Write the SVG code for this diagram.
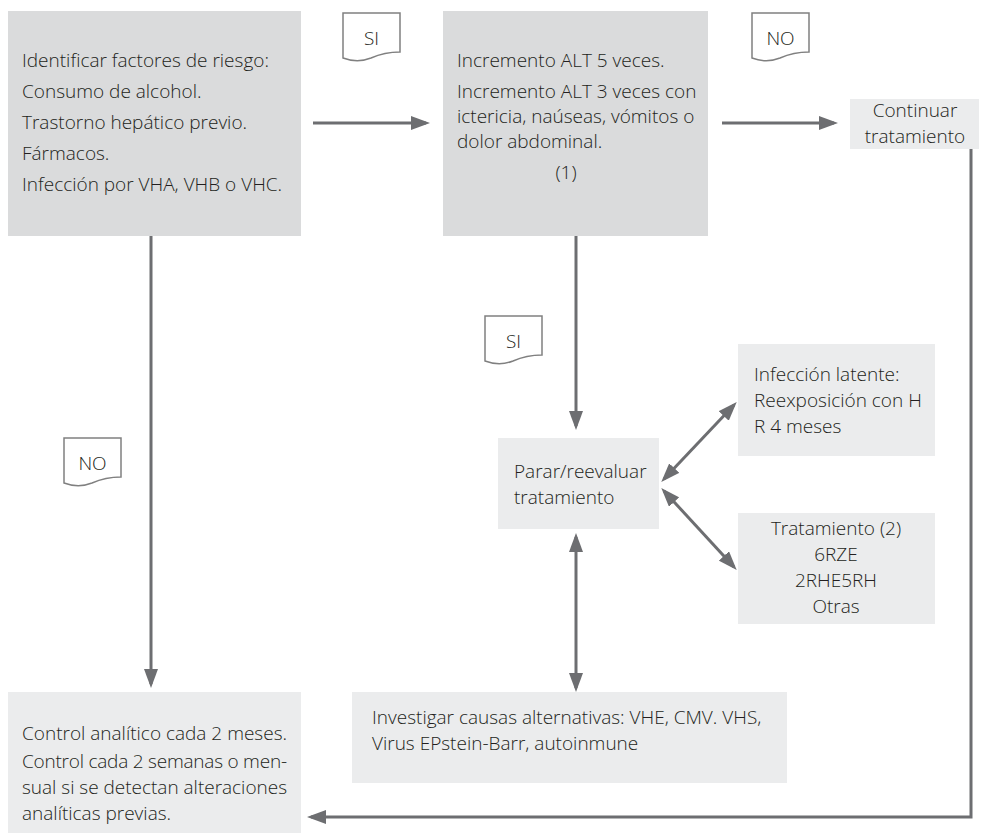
<svg xmlns="http://www.w3.org/2000/svg" width="983" height="833" viewBox="0 0 983 833">
  <style>
    text { font-family: "Open Sans", "Noto Sans", "DejaVu Sans", sans-serif; font-size: 19px; font-weight: 300; fill: #231f20; }
    .dark { fill: #dadbdc; }
    .light { fill: #ebeced; }
    .mid { text-anchor: middle; }
    .tag use { fill: #ffffff; stroke: #808080; stroke-width: 1.5; }
    .tag text { font-size: 19px; text-anchor: middle; }
    .conn { fill: none; stroke: #6d6e71; stroke-width: 3; }
  </style>
  <defs>
    <marker id="head" markerUnits="userSpaceOnUse" markerWidth="19" markerHeight="14" refX="15" refY="7" orient="auto-start-reverse">
      <path d="M0,0 L19,7 L0,14 Z" fill="#6d6e71"/>
    </marker>
    <!-- document-shaped label with a wavy lower edge -->
    <path id="doc" d="M0,0 H57 V39 C45,39 37,41 28,45 C18,49 8,48 0,45 Z"/>
  </defs>

  <!-- nodes -->
  <g id="riesgo">
    <rect class="dark" x="8" y="11" width="293" height="225"/>
    <text x="22" y="67">Identificar factores de riesgo:</text>
    <text x="22" y="98">Consumo de alcohol.</text>
    <text x="22" y="129">Trastorno hepático previo.</text>
    <text x="22" y="160">Fármacos.</text>
    <text x="22" y="191">Infección por VHA, VHB o VHC.</text>
  </g>

  <g id="incremento">
    <rect class="dark" x="443" y="11" width="265" height="225"/>
    <text x="457" y="67">Incremento ALT 5 veces.</text>
    <text x="457" y="98">Incremento ALT 3 veces con</text>
    <text x="457" y="123">ictericia, naúseas, vómitos o</text>
    <text x="457" y="148">dolor abdominal.</text>
    <text class="mid" x="566" y="179">(1)</text>
  </g>

  <g id="continuar">
    <rect class="light" x="850" y="99" width="129" height="50"/>
    <text class="mid" x="915" y="117">Continuar</text>
    <text class="mid" x="915" y="143">tratamiento</text>
  </g>

  <g id="parar">
    <rect class="light" x="498" y="438" width="161" height="91"/>
    <text x="514" y="478">Parar/reevaluar</text>
    <text x="514" y="504">tratamiento</text>
  </g>

  <g id="latente">
    <rect class="light" x="738" y="344" width="197" height="112"/>
    <text x="754" y="381">Infección latente:</text>
    <text x="754" y="407">Reexposición con H</text>
    <text x="754" y="433">R 4 meses</text>
  </g>

  <g id="tratamiento">
    <rect class="light" x="738" y="513" width="197" height="111"/>
    <text class="mid" x="836" y="535">Tratamiento (2)</text>
    <text class="mid" x="836" y="561">6RZE</text>
    <text class="mid" x="836" y="587">2RHE5RH</text>
    <text class="mid" x="836" y="613">Otras</text>
  </g>

  <g id="investigar">
    <rect class="light" x="352" y="692" width="435" height="91"/>
    <text x="372" y="724">Investigar causas alternativas: VHE, CMV. VHS,</text>
    <text x="372" y="750">Virus EPstein-Barr, autoinmune</text>
  </g>

  <g id="control">
    <rect class="light" x="8" y="692" width="293" height="141"/>
    <text x="22" y="740">Control analítico cada 2 meses.</text>
    <text x="22" y="768" textLength="265" lengthAdjust="spacing">Control cada 2 semanas o men-</text>
    <text x="22" y="794" textLength="265" lengthAdjust="spacing">sual si se detectan alteraciones</text>
    <text x="22" y="820">analíticas previas.</text>
  </g>

  <!-- decision tags -->
  <g id="tag-si-1" class="tag" transform="translate(343,13)">
    <use href="#doc"/>
    <text x="28.5" y="32">SI</text>
  </g>
  <g id="tag-no-1" class="tag" transform="translate(752,13)">
    <use href="#doc"/>
    <text x="28.5" y="32">NO</text>
  </g>
  <g id="tag-si-2" class="tag" transform="translate(485,316)">
    <use href="#doc"/>
    <text x="28.5" y="32">SI</text>
  </g>
  <g id="tag-no-2" class="tag" transform="translate(64,438)">
    <use href="#doc"/>
    <text x="28.5" y="32">NO</text>
  </g>

  <!-- connectors -->
  <g id="connectors" class="conn">
    <path d="M313,123 H426" marker-end="url(#head)"/>
    <path d="M722,123 H834" marker-end="url(#head)"/>
    <path d="M576,236 V426" marker-end="url(#head)"/>
    <path d="M151,236 V684" marker-end="url(#head)"/>
    <path d="M971,149 V817 H311" marker-end="url(#head)"/>
    <path d="M576,537 V688" marker-start="url(#head)" marker-end="url(#head)"/>
    <path d="M664,479 L734,405" marker-start="url(#head)" marker-end="url(#head)"/>
    <path d="M664,491 L734,567" marker-start="url(#head)" marker-end="url(#head)"/>
  </g>
</svg>
